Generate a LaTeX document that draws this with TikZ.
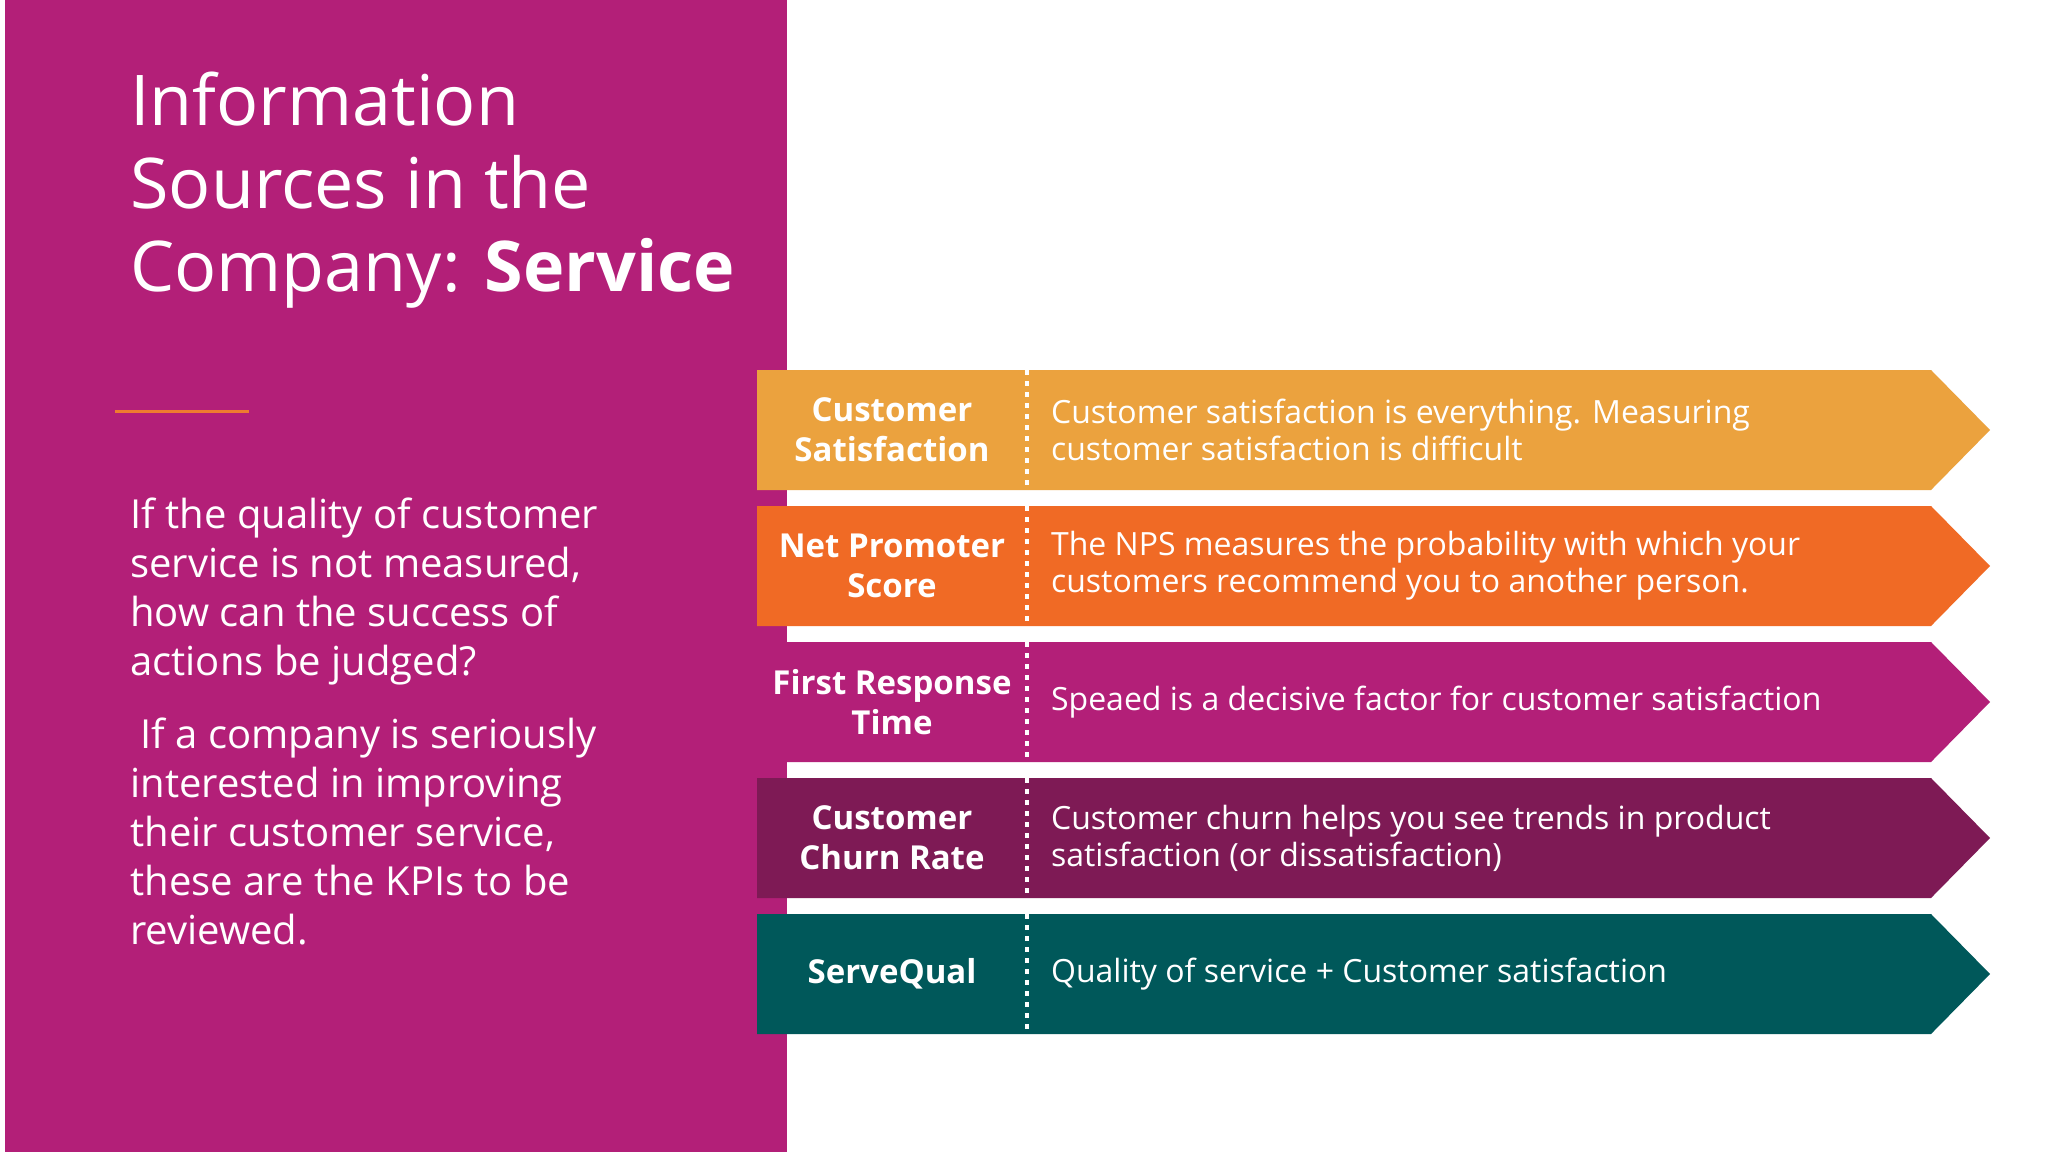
\documentclass[tikz,border=0pt]{standalone}
\usepackage{fontspec}
\setmainfont{Open Sans}
\definecolor{mag}{HTML}{B31F78}
\definecolor{c1}{HTML}{EBA23E}
\definecolor{c2}{HTML}{F06A25}
\definecolor{c3}{HTML}{B31F78}
\definecolor{c4}{HTML}{7E1A55}
\definecolor{c5}{HTML}{00585A}
\definecolor{ln}{HTML}{EE7B30}
\begin{document}
\begin{tikzpicture}[x=0.5pt,y=-0.5pt,
  lab/.style={text=white,font=\bfseries\fontsize{16.5}{20}\selectfont,align=center,anchor=center},
  desc/.style={text=white,font=\fontsize{16}{18.5}\selectfont,align=left,anchor=west},
  divl/.style={white,line width=1.8pt,dash pattern=on 2.5pt off 3pt}]
\useasboundingbox (0,0) rectangle (2048,1152);
\fill[white] (0,0) rectangle (2048,1152);
\fill[mag] (5,0) rectangle (787,1152);
\node[anchor=north west,text=white,align=left,font=\fontsize{35}{41.5}\selectfont,inner sep=0] (title) at (130,72)
 {Information\\Sources in the\\Company: \textbf{Service}};
\draw[ln,line width=1.5pt] (115,411) -- (249,411);
\node[anchor=north west,text=white,align=left,font=\fontsize{20}{24.6}\selectfont,inner sep=0] (p1) at (130,497)
 {If the quality of customer\\service is not measured,\\how can the success of\\actions be judged?};
\node[anchor=north west,text=white,align=left,font=\fontsize{20}{24.6}\selectfont,inner sep=0] (p2) at (130,717)
 {\ If a company is seriously\\interested in improving\\their customer service,\\these are the KPIs to be\\reviewed.};
\foreach \i/\c/\l/\d in {
 0/c1/{Customer\\Satisfaction}/{Customer satisfaction is everything. Measuring\\customer satisfaction is difficult},
 1/c2/{Net Promoter\\Score}/{The NPS measures the probability with which your\\customers recommend you to another person.},
 2/c3/{First Response\\Time}/{Speaed is a decisive factor for customer satisfaction},
 3/c4/{Customer\\Churn Rate}/{Customer churn helps you see trends in product\\satisfaction (or dissatisfaction)},
 4/c5/{ServeQual}/{Quality of service + Customer satisfaction}} {
  \pgfmathsetmacro{\t}{370+136*\i}
  \pgfmathsetmacro{\b}{\t+120}
  \pgfmathsetmacro{\m}{\t+60}
  \fill[\c] (757,\t) -- (1931,\t) -- (1990,\m) -- (1931,\b) -- (757,\b) -- cycle;
  \draw[divl] (1027,\t) -- (1027,\b);
  \node[lab] (l\i) at (892,\m) {\l};
  \node[desc] (d\i) at (1044,\m) {\d};
}
\end{tikzpicture}
\end{document}
